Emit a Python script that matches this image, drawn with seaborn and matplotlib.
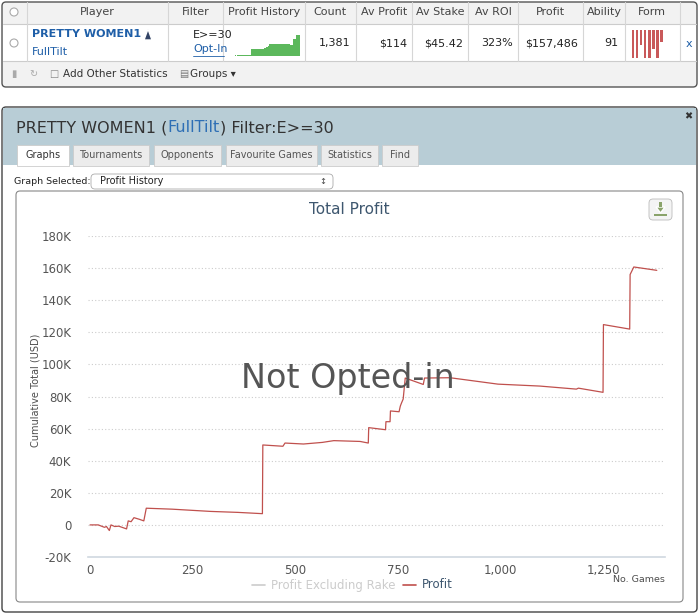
import matplotlib.pyplot as plt
import matplotlib.patches as mp
import seaborn as sns
import pandas as pd

# profit history (game number, cumulative profit USD)
games = [0, 20, 35, 40, 47, 51, 60, 70, 89, 93, 100, 107, 120, 131, 137, 200, 294, 360, 420,
         421, 470, 475, 520, 566, 594, 658, 678, 679, 720, 721, 731, 732, 753, 756, 759, 763,
         768, 790, 812, 815, 877, 994, 1096, 1185, 1190, 1250, 1251, 1315, 1316, 1325, 1381]
profit = [0, 0, -1500, -1000, -3500, 0, -1000, -800, -2500, 2500, 2000, 4500, 3500, 2500, 10400,
          9800, 8400, 7800, 7000, 49800, 49000, 51000, 50400, 51400, 52500, 52000, 51000, 60600,
          59300, 64300, 64300, 71000, 70500, 74000, 76000, 78400, 91500, 89500, 87500, 91500,
          91700, 87700, 86500, 84600, 85200, 82600, 124800, 122000, 156000, 160700, 158600]
yticks = list(range(-20000, 180001, 20000))
ytick_labels = ["-20K", "0"] + [f"{v // 1000}K" for v in yticks[2:]]
xticks = [0, 250, 500, 750, 1000, 1250]
xtick_labels = ["0", "250", "500", "750", "1,000", "1,250"]
form = [1.0, 1.0, 0.55, 1.0, 1.0, 0.7, 1.0, 0.45]

df = pd.DataFrame({"games": games, "profit": profit})

sns.set_style("white")
plt.rcParams["font.family"] = ["DejaVu Sans"]
W, H = 700, 614
fig = plt.figure(figsize=(7, 6.14), dpi=100)

bg = fig.add_axes([0, 0, 1, 1], zorder=0)
bg.set_xlim(0, W)
bg.set_ylim(H, 0)
bg.axis("off")

def rect(x0, y0, x1, y1, fc="white", ec="none", lw=1, rounded=False, z=1):
    if rounded:
        p = mp.FancyBboxPatch((x0, y0), x1 - x0, y1 - y0, boxstyle="round,pad=0,rounding_size=4",
                              fc=fc, ec=ec, lw=lw, zorder=z)
    else:
        p = mp.Rectangle((x0, y0), x1 - x0, y1 - y0, fc=fc, ec=ec, lw=lw, zorder=z)
    bg.add_patch(p)

def txt(x, y, s, size=8, color="#333333", ha="left", **kw):
    return bg.text(x, y, s, fontsize=size, color=color, ha=ha, va="center", **kw)

# ---- top table
rect(2, 2, 697, 87, fc="#f2f2f2", ec="#555555", lw=1, rounded=True)
rect(3, 24, 696, 61, fc="white", z=1.1)
for yy in (24, 61):
    bg.plot([3, 696], [yy, yy], color="#cccccc", lw=0.8, zorder=2)
for xx in (27, 168, 223, 305, 356, 412, 468, 518, 583, 625, 680):
    bg.plot([xx, xx], [2, 61], color="#d6d6d6", lw=0.8, zorder=2)
for x, s in [(97, "Player"), (196, "Filter"), (264, "Profit History"), (330, "Count"),
             (384, "Av Profit"), (440, "Av Stake"), (493, "Av ROI"), (550, "Profit"),
             (604, "Ability"), (652, "Form")]:
    txt(x, 12, s, 8, "#444444", ha="center")
for cy in (12, 43):
    bg.add_patch(mp.Circle((14, cy), 4, fc="white", ec="#aaaaaa", lw=0.8, zorder=3))
txt(32, 34, "PRETTY WOMEN1", 8, "#1f5fa8", weight="bold")
txt(32, 52, "FullTilt", 8, "#1f5fa8")
bg.add_patch(mp.Polygon([[148, 29], [152, 40], [144, 40]], fc="#334466", zorder=3))
txt(193, 35, "E>=30", 8, "#222222")
txt(193, 49, "Opt-In", 8, "#1f5fa8")
bg.plot([193, 224], [56, 56], color="#1f5fa8", lw=0.6, zorder=3)
for x, s in [(350, "1,381"), (407, "$114"), (463, "$45.42"), (513, "323%"),
             (578, "$157,486"), (618, "91")]:
    txt(x, 43, s, 8, "#222222", ha="right")
txt(686, 44, "x", 8, "#1f5fa8")
txt(14, 74, "\u25AE", 7, "#aaaaaa", ha="center")
txt(33, 74, "\u21BB", 7, "#aaaaaa", ha="center")
txt(54, 74, "\u25A1", 7, "#888888", ha="center")
txt(63, 74, "Add Other Statistics", 7.5, "#333333")
txt(184, 74, "\u25A4", 7, "#777777", ha="center")
txt(190, 74, "Groups \u25BE", 7.5, "#333333")

spark = fig.add_axes([228 / W, 1 - 56 / H, 72 / W, 22 / H], zorder=3)
spark.fill_between(df["games"], df["profit"].clip(lower=0), color="#5cb85c", step="post", lw=0)
spark.set_xlim(-40, 1390)
spark.set_ylim(0, 165000)
spark.axis("off")

formax = fig.add_axes([631 / W, 1 - 59 / H, 33 / W, 29 / H], zorder=3)
formax.bar(range(len(form)), [-v for v in form], color="#c9595a", width=0.7, linewidth=0)
formax.set_xlim(-0.5, len(form) - 0.3)
formax.set_ylim(-1.05, 0)
formax.axis("off")

# ---- stats panel
rect(2, 107, 697, 612, fc="white", ec="#444444", lw=1, rounded=True)
rect(3, 108, 696, 165, fc="#b8cdd6", z=1.1)
fig.canvas.draw()
r = fig.canvas.get_renderer()
x = 16
for s, c in [("PRETTY WOMEN1 (", "#333333"), ("FullTilt", "#2e6fb5"), (") Filter:E>=30", "#333333")]:
    t = txt(x, 128, s, 11.5, c)
    bb = t.get_window_extent(r)
    x += bb.width * W / fig.bbox.width
txt(688, 116, "\u2716", 7, "#333333", ha="center")
tabs = [(17, 69, "Graphs"), (73, 149, "Tournaments"), (154, 221, "Opponents"),
        (226, 317, "Favourite Games"), (321, 378, "Statistics"), (382, 418, "Find")]
for i, (x0, x1, s) in enumerate(tabs):
    rect(x0, 145, x1, 166, fc="white" if i == 0 else "#ececec", ec="#cccccc", lw=0.6, z=1.2)
    txt((x0 + x1) / 2, 155, s, 7, "#333333" if i == 0 else "#555555", ha="center")
txt(14, 181, "Graph Selected:", 6.8, "#222222")
rect(91, 174, 333, 189, fc="white", ec="#aaaaaa", lw=0.6, rounded=True, z=1.2)
txt(100, 181.5, "Profit History", 7, "#222222")
txt(323, 181.5, "\u2195", 6, "#444444", ha="center")
rect(16, 191, 683, 602, fc="white", ec="#888888", lw=0.8, rounded=True, z=1.2)
txt(349, 209, "Total Profit", 11, "#3e576f", ha="center")
rect(649, 199, 672, 220, fc="#f4f4f4", ec="#bbbbbb", lw=0.6, rounded=True, z=1.3)
bg.add_patch(mp.Polygon([[656, 207], [665, 207], [660.5, 213]], fc="#8aa36a", zorder=3))
rect(659, 202, 662, 207, fc="#8aa36a", z=3)
rect(654, 214, 667, 216, fc="#8aa36a", z=3)
bg.text(35, 390, "Cumulative Total (USD)", fontsize=7, color="#4d4d4d", rotation=90,
        ha="center", va="center")
bg.plot([252, 265], [585, 585], color="#cccccc", lw=1.2, zorder=3)
txt(271, 585, "Profit Excluding Rake", 8.5, "#cccccc")
bg.plot([403, 416], [585, 585], color="#c0504d", lw=1.2, zorder=3)
txt(422, 585, "Profit", 8.5, "#3e576f")
txt(665, 580, "No. Games", 6.8, "#4d4d4d", ha="right")

# ---- main chart
ax = fig.add_axes([88 / W, 1 - 557 / H, 577 / W, 321 / H], zorder=4)
ax.patch.set_alpha(0)
sns.lineplot(data=df, x="games", y="profit", ax=ax, color="#c0504d", lw=0.9)
ax.set_xlim(-5, 1401)
ax.set_ylim(-20000, 180000)
ax.set_yticks(yticks)
ax.set_yticklabels(ytick_labels)
ax.set_xticks(xticks)
ax.set_xticklabels(xtick_labels)
ax.set_xlabel("")
ax.set_ylabel("")
ax.yaxis.grid(True, color="#cccccc", ls=(0, (1, 2)), lw=0.8)
for side in ("top", "right", "left"):
    ax.spines[side].set_visible(False)
ax.spines["bottom"].set_color("#d0d8e0")
ax.spines["bottom"].set_linewidth(1.2)
ax.tick_params(axis="y", length=0, labelsize=8.5, labelcolor="#555555", pad=12)
ax.tick_params(axis="x", length=4, color="#d0d8e0", labelsize=8.5, labelcolor="#555555", pad=1)
ax.text(0.45, 0.555, "Not Opted-in", transform=ax.transAxes, fontsize=24, color="#555555",
        ha="center", va="center", zorder=5)

fig.savefig("out.png", dpi=100)
